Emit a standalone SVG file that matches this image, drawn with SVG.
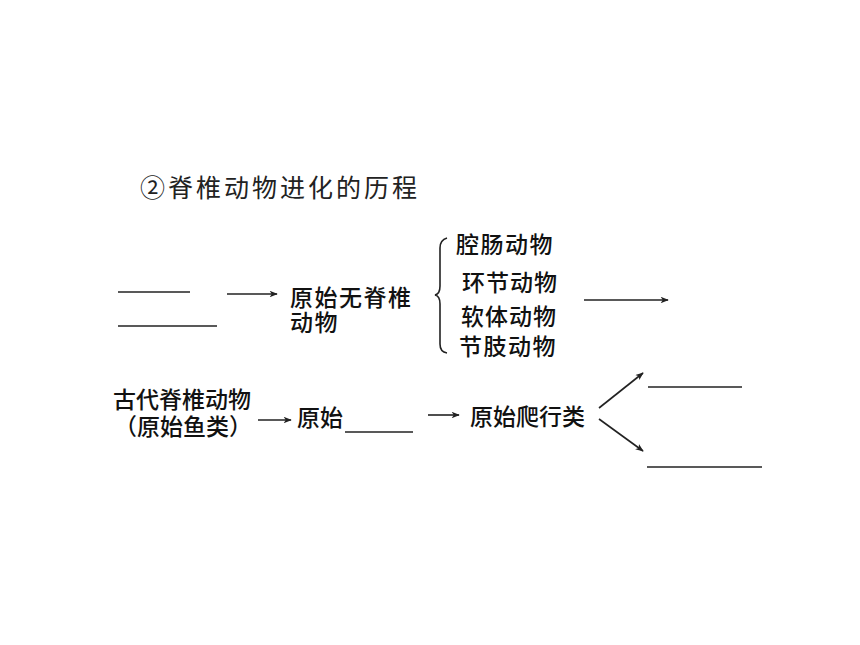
<svg xmlns="http://www.w3.org/2000/svg" width="860" height="645" viewBox="0 0 860 645">
<style>
text{font-family:"Noto Sans CJK SC","Liberation Sans",sans-serif;fill:#111;font-size:23px;font-weight:500}
.title{font-size:25px;font-weight:400;letter-spacing:3px;fill:#222}
.ln{stroke:#222;stroke-width:1.6;fill:none}
.ar{stroke:#222;stroke-width:1.6;fill:none;marker-end:url(#ah)}
</style>
<defs>
<marker id="ah" viewBox="0 0 10 8" refX="9" refY="4" markerWidth="9" markerHeight="6.5" markerUnits="userSpaceOnUse" orient="auto">
<path d="M0,0 L10,4 L0,8 L2.5,4 Z" fill="#222"/>
</marker>
</defs>
<rect width="860" height="645" fill="#fff"/>
<text class="title" x="140" y="197">②脊椎动物进化的历程</text>

<g id="blanks">
<line class="ln" x1="118" y1="292" x2="190" y2="292"/>
<line class="ln" x1="118" y1="326" x2="217" y2="326"/>
<line class="ln" x1="345" y1="432" x2="413" y2="432"/>
<line class="ln" x1="648" y1="387" x2="742" y2="387"/>
<line class="ln" x1="647" y1="467" x2="762" y2="467"/>
</g>

<g id="node-invert">
<text x="290" y="306" letter-spacing="1.5">原始无脊椎</text>
<text x="290" y="331" letter-spacing="1.5">动物</text>
</g>

<g id="node-groups">
<path class="ln" d="M447,238 Q440,240 440,248 L440,286 Q440,294 435,295 Q440,296 440,304 L440,344 Q440,352 447,353" stroke-width="1.3"/>
<text x="456" y="253" letter-spacing="1.5">腔肠动物</text>
<text x="462" y="291" letter-spacing="1">环节动物</text>
<text x="461" y="325" letter-spacing="1">软体动物</text>
<text x="459" y="355" letter-spacing="1.5">节肢动物</text>
</g>

<g id="node-fish">
<text x="113" y="408">古代脊椎动物</text>
<text x="114" y="435">（原始鱼类）</text>
</g>
<g id="node-amph">
<text x="297" y="426">原始</text>
</g>
<g id="node-rept">
<text x="470" y="425">原始爬行类</text>
</g>

<g id="connectors">
<line class="ar" x1="227" y1="294" x2="277" y2="294"/>
<line class="ar" x1="584" y1="300" x2="668" y2="300"/>
<line class="ar" x1="258" y1="420" x2="291" y2="420"/>
<line class="ar" x1="428" y1="415" x2="459" y2="415"/>
<line class="ar" x1="599" y1="408" x2="643" y2="373"/>
<line class="ar" x1="599" y1="419" x2="643" y2="451"/>
</g>
</svg>
